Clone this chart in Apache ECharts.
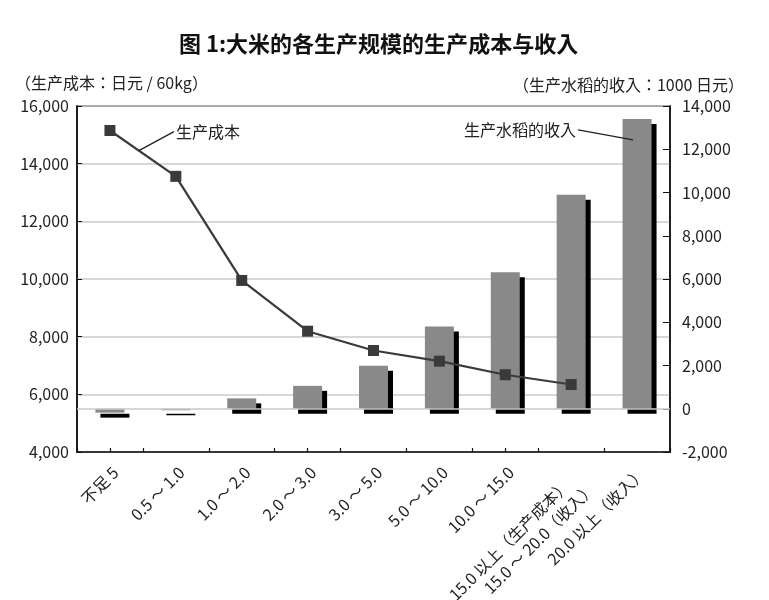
<!DOCTYPE html>
<html><head><meta charset="utf-8">
<script src="https://cdn.jsdelivr.net/npm/echarts@6/dist/echarts.min.js"></script>
<style>html,body{margin:0;padding:0;background:#fff}#c{width:769px;height:600px}</style>
</head><body><div id="c"></div>
<script>
// ---- data ----
const categories = ['不足 5', '0.5 ～ 1.0', '1.0 ～ 2.0', '2.0 ～ 3.0', '3.0 ～ 5.0', '5.0 ～ 10.0', '10.0 ～ 15.0', '15.0 以上（生产成本）\n15.0 ～ 20.0（收入）', '20.0 以上（收入）'];
const costValues = [15150, 13560, 9950, 8190, 7520, 7150, 6680, 6340, null];     // 生产成本 (日元/60kg)
const incomeValues = [-180, -70, 480, 1060, 1990, 3800, 6310, 9900, 13400];      // 生产水稻的收入 (1000 日元)
const costAxisRange = [4000, 16000];
const incomeAxisRange = [-2000, 14000];
const tickStep = 2000;
const titleText = '图 1:大米的各生产规模的生产成本与收入';
const costAxisName = '（生产成本：日元 / 60kg）';
const incomeAxisName = '（生产水稻的收入：1000 日元）';
const costSeriesName = '生产成本';
const incomeSeriesName = '生产水稻的收入';

const FONT = '"Noto Sans CJK JP", "Noto Sans CJK SC", sans-serif';
const TXT = '#222';
const AX = '#111';
const GRIDC = '#cacaca';
function commas(v) {
  const s = String(Math.abs(v)).replace(/\B(?=(\d{3})+(?!\d))/g, ',');
  return (v < 0 ? '-' : '') + s;
}

const chart = echarts.init(document.getElementById('c'), null, {renderer: 'canvas'});
chart.setOption({
  animation: false,
  backgroundColor: '#fff',
  title: {
    text: titleText, left: 174, top: 28,
    textStyle: {fontSize: 22, fontWeight: 'bold', color: '#111', fontFamily: FONT}
  },
  grid: {left: 77, right: 99, top: 106, bottom: 148, containLabel: false, outerBoundsMode: 'none',
         show: true, borderColor: AX, borderWidth: 1.5, backgroundColor: 'rgba(0,0,0,0)'},
  xAxis: [
    {
      type: 'category', data: categories, boundaryGap: true, position: 'bottom',
      axisLine: {onZero: false, lineStyle: {color: AX, width: 1.5}},
      axisTick: {show: true, inside: true, length: 4, alignWithLabel: false, lineStyle: {color: AX, width: 1.2}},
      axisLabel: {
        rotate: 45, margin: 12, interval: 0, fontSize: 16, color: TXT, fontFamily: FONT,
        verticalAlign: 'top',
        formatter: function (v) {
          const parts = v.split('\n');
          if (parts.length > 1) return '{a|' + parts[0] + '}\n{b|' + parts[1] + '}';
          return v;
        },
        rich: {
          a: {fontSize: 16, color: TXT, fontFamily: FONT, padding: [0, 16, 0, 0], lineHeight: 20},
          b: {fontSize: 16, color: TXT, fontFamily: FONT, lineHeight: 20}
        }
      },
      splitLine: {show: false}
    },
    {
      type: 'category', data: categories, boundaryGap: true, position: 'bottom',
      axisLine: {show: false, onZero: false},
      axisTick: {show: true, inside: true, length: 4, alignWithLabel: true, lineStyle: {color: AX, width: 1.2}},
      axisLabel: {show: false},
      splitLine: {show: false}
    }
  ],
  yAxis: [
    {
      type: 'value', position: 'left', min: costAxisRange[0], max: costAxisRange[1], interval: tickStep,
      axisLine: {show: true, onZero: false, lineStyle: {color: AX, width: 1.5}},
      axisTick: {show: true, inside: true, length: 5, lineStyle: {color: AX}},
      axisLabel: {fontSize: 16, margin: 8, color: TXT, fontFamily: FONT, formatter: commas},
      splitLine: {show: true, lineStyle: {color: GRIDC, width: 1.5}}
    },
    {
      type: 'value', position: 'right', min: incomeAxisRange[0], max: incomeAxisRange[1], interval: tickStep,
      axisLine: {show: true, onZero: false, lineStyle: {color: AX, width: 1.5}},
      axisTick: {show: true, inside: true, length: 7, lineStyle: {color: AX}},
      axisLabel: {fontSize: 16, margin: 12, color: TXT, fontFamily: FONT, formatter: commas},
      splitLine: {show: false}
    }
  ],
  series: [
    {
      // zero reference line of the income axis, drawn beneath the bars
      type: 'line', xAxisIndex: 0, yAxisIndex: 1, data: [], z: 1, silent: true,
      markLine: {silent: true, symbol: 'none', label: {show: false}, animation: false,
                 lineStyle: {color: GRIDC, width: 1.5, type: 'solid'}, data: [{yAxis: 0}]}
    },
    {
      name: incomeSeriesName, type: 'bar', xAxisIndex: 0, yAxisIndex: 1, data: incomeValues,
      barWidth: 29, z: 2,
      itemStyle: {color: '#898989', shadowColor: '#000', shadowOffsetX: 5, shadowOffsetY: 5, shadowBlur: 0}
    },
    {
      name: costSeriesName, type: 'line', xAxisIndex: 0, yAxisIndex: 0, data: costValues,
      symbol: 'rect', symbolSize: 11, z: 5,
      lineStyle: {color: '#3a3a3a', width: 2.2},
      itemStyle: {color: '#3a3a3a'}
    }
  ]
});

// annotations positioned from the data through the axes
const p1 = chart.convertToPixel({xAxisIndex: 0, yAxisIndex: 0}, [0, costValues[0]]);
const p2 = chart.convertToPixel({xAxisIndex: 0, yAxisIndex: 0}, [1, costValues[1]]);
const cs = [p1[0] + 0.44 * (p2[0] - p1[0]), p1[1] + 0.44 * (p2[1] - p1[1])];
const ce = [cs[0] + 35, cs[1] - 19];
const last = incomeValues.length - 1;
const b9 = chart.convertToPixel({xAxisIndex: 0, yAxisIndex: 1}, [last, incomeValues[last]]);
const ie = [b9[0] - 4, b9[1] + 21];
const is = [ie[0] - 55, ie[1] - 10];

chart.setOption({
  graphic: [
    {type: 'line', shape: {x1: cs[0], y1: cs[1], x2: ce[0], y2: ce[1]}, style: {stroke: '#222', lineWidth: 1.3}, z: 10},
    {type: 'text', x: ce[0] + 2, y: ce[1], style: {text: costSeriesName, fontSize: 16, fill: TXT, fontFamily: FONT, textAlign: 'left', textVerticalAlign: 'middle'}, z: 10},
    {type: 'line', shape: {x1: is[0], y1: is[1], x2: ie[0], y2: ie[1]}, style: {stroke: '#222', lineWidth: 1.3}, z: 10},
    {type: 'text', x: is[0] - 2, y: is[1], style: {text: incomeSeriesName, fontSize: 16, fill: TXT, fontFamily: FONT, textAlign: 'right', textVerticalAlign: 'middle'}, z: 10},
    {type: 'text', x: 15, y: 83, style: {text: costAxisName, fontSize: 16, fill: TXT, fontFamily: FONT, textAlign: 'left', textVerticalAlign: 'middle'}},
    {type: 'text', x: 744, y: 85, style: {text: incomeAxisName, fontSize: 16, fill: TXT, fontFamily: FONT, textAlign: 'right', textVerticalAlign: 'middle'}}
  ]
});
</script>
</body></html>
